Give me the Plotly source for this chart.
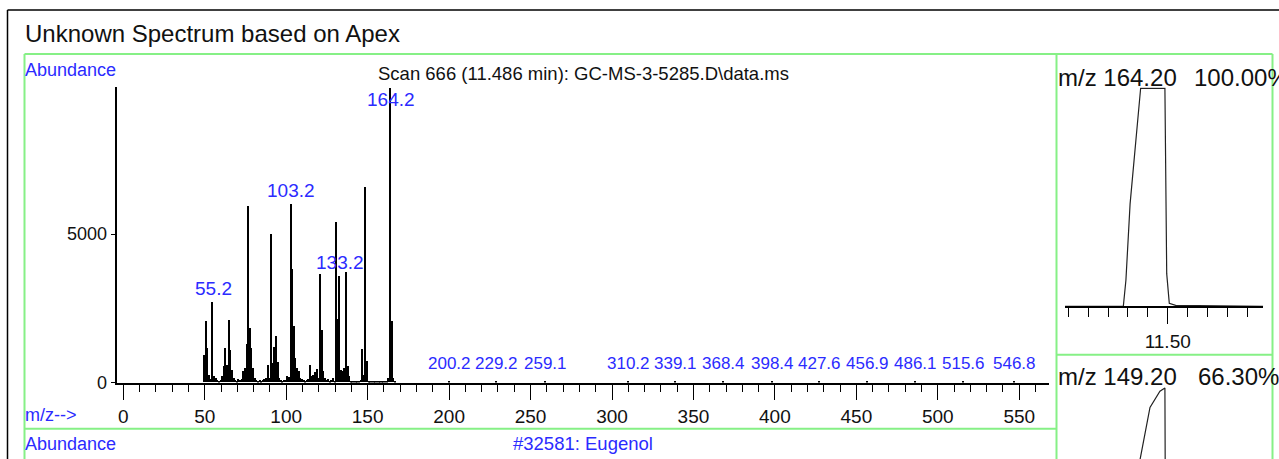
import plotly.graph_objects as go

W, H = 1279, 459
H_RENDER = 470  # page is photographed taller than the window and scaled back to 459

# ---------------- data ----------------
mz = [50, 51, 52, 53, 54, 55, 56, 57, 58, 59, 60, 61, 62, 63, 64, 65, 66, 67, 68, 69,
      70, 71, 72, 73, 74, 75, 76, 77, 78, 79, 80, 81, 82, 83, 84, 85, 86, 87, 88, 89,
      90, 91, 92, 93, 94, 95, 96, 97, 98, 99, 100, 101, 102, 103, 104, 105, 106, 107, 108, 109,
      110, 111, 112, 113, 114, 115, 116, 117, 118, 119, 120, 121, 122, 123, 124, 125, 126, 127, 128, 129,
      130, 131, 132, 133, 134, 135, 136, 137, 138, 139, 140, 141, 142, 143, 144, 145, 146, 147, 148, 149,
      150, 151, 152, 153, 154, 155, 156, 157, 158, 159, 160, 161, 162, 163, 164, 165, 166, 167,
      200.2, 229.2, 259.1, 310.2, 339.1, 368.4, 398.4, 427.6, 456.9, 486.1, 515.6, 546.8]
abundance = [930, 2060, 1160, 260, 120, 2710, 200, 150, 80, 60, 70, 200, 540, 1160, 600, 2110, 1100, 430, 150, 90,
             60, 120, 80, 120, 370, 500, 1300, 5940, 1840, 1150, 480, 150, 90, 60, 80, 60, 90, 120, 150, 600,
             150, 4990, 650, 1200, 1560, 700, 150, 90, 60, 80, 90, 200, 180, 6000, 3810, 1900, 820, 480, 370, 150,
             120, 90, 60, 90, 120, 570, 200, 260, 350, 460, 150, 3660, 1750, 370, 150, 90, 120, 60, 90, 150,
             60, 5400, 2130, 3590, 430, 370, 480, 3730, 540, 200, 60, 30, 30, 30, 30, 60, 90, 1120, 240, 6580,
             720, 60, 20, 20, 20, 20, 20, 20, 20, 20, 20, 60, 40, 150, 9930, 2060, 150, 60,
             40, 30, 30, 25, 25, 25, 25, 25, 25, 25, 25, 25]

big_labels = [55.2, 103.2, 133.2, 164.2]
small_labels = [200.2, 229.2, 259.1, 310.2, 339.1, 368.4, 398.4, 427.6, 456.9, 486.1, 515.6, 546.8]

xic164_time = [11.4484, 11.4777, 11.4790, 11.4800, 11.4811, 11.4864, 11.4986, 11.4995, 11.5008, 11.5040, 11.5480]
xic164_pct = [0, 0, 12, 30, 47, 100, 100, 15, 1.4, 0.5, 0]

xic149_time = [11.4484, 11.4760, 11.4791, 11.4821, 11.4861, 11.4911, 11.4961, 11.4986, 11.4990, 11.5480]
xic149_pct = [0, 0, 10, 35, 67, 91, 98.5, 100, 0, 0]

# ---------------- styling helpers ----------------
FONT = "Liberation Sans, Arial, sans-serif"
BLUE = "#2b2bff"
GREEN = "#86f086"
INK = "#111111"


def fx(p):
    return p / W


def fy(p):
    return 1 - p / H


fig = go.Figure()

fig.add_trace(go.Bar(x=mz, y=abundance, width=0.9, marker=dict(color="black", line=dict(width=0)),
                     xaxis="x", yaxis="y", showlegend=False, hoverinfo="x+y"))

fig.add_trace(go.Scatter(x=xic164_time, y=xic164_pct, mode="lines", line=dict(color="#222", width=1.2),
                         xaxis="x2", yaxis="y2", showlegend=False))
fig.add_trace(go.Scatter(x=xic149_time, y=xic149_pct, mode="lines", line=dict(color="#222", width=1.2),
                         xaxis="x3", yaxis="y3", showlegend=False))

ab_lookup = dict(zip(mz, abundance))
annotations = []
for lab in big_labels:
    val = ab_lookup.get(int(lab), 0)
    annotations.append(dict(x=lab, y=min(val, 9070), xref="x", yref="y", text=f"{lab:.1f}", showarrow=False,
                            xanchor="center", yanchor="bottom", yshift=1,
                            font=dict(family=FONT, size=19, color=BLUE)))
for lab in small_labels:
    annotations.append(dict(x=lab, y=0, xref="x", yref="y", text=f"{lab:.1f}", showarrow=False,
                            xanchor="center", yanchor="bottom", yshift=8,
                            font=dict(family=FONT, size=17, color=BLUE)))


def txt(x, y, s, size, color, anchor="left"):
    annotations.append(dict(x=fx(x), y=fy(y), xref="paper", yref="paper", text=s, showarrow=False,
                            xanchor=anchor, yanchor="middle", font=dict(family=FONT, size=size, color=color)))


txt(23, 33, "Unknown Spectrum based on Apex", 24, INK)
txt(23, 70, "Abundance", 18, BLUE)
txt(376, 73, "Scan 666 (11.486 min): GC-MS-3-5285.D\\data.ms", 18.5, INK)
txt(23, 414, "m/z-->", 18, BLUE)
txt(23, 443, "Abundance", 18, BLUE)
txt(511, 443, "#32581: Eugenol", 18.5, BLUE)
txt(1056, 77, "m/z 164.20", 24, INK)
txt(1192, 77, "100.00%", 24, INK)
txt(1056, 376, "m/z 149.20", 24, INK)
txt(1196, 376, "66.30%", 24, INK)

shapes = []


def line(x0, y0, x1, y1, color, width):
    shapes.append(dict(type="line", xref="paper", yref="paper", x0=fx(x0), y0=fy(y0), x1=fx(x1), y1=fy(y1),
                       line=dict(color=color, width=width), layer="above"))


# black outer frame
line(7.5, 10, W, 10, "black", 1.5)
line(7.5, 10, 7.5, H, "black", 1.5)
# green panels
line(24.5, 54, 1272.5, 54, GREEN, 2)
line(24.5, 54, 24.5, H, GREEN, 2)
line(1056.5, 54, 1056.5, H, GREEN, 2)
line(1272.5, 54, 1272.5, H, GREEN, 2)
line(24.5, 427.7, 1056.5, 427.7, GREEN, 2)
line(1056.5, 354, 1272.5, 354, GREEN, 2)

# axis geometry (pixels -> paper)
x_left_px, x_right_px = 117.3, 1049.3
x0_px, px_per_unit = 123.3, 1.629
y_base_px, y_top_px = 381.7, 87.0
y_top_val = 9950

xr = [(x_left_px - x0_px) / px_per_unit, (x_right_px - x0_px) / px_per_unit]

t_major_px, px_per_min = 1167.7, 1990.0
xic_left_px, xic_right_px = 1065.0, 1263.3
tr = [11.50 + (xic_left_px - t_major_px) / px_per_min, 11.50 + (xic_right_px - t_major_px) / px_per_min]

fig.update_layout(
    width=W, height=H_RENDER, margin=dict(l=0, r=0, t=0, b=0),
    paper_bgcolor="white", plot_bgcolor="rgba(0,0,0,0)",
    bargap=0, showlegend=False,
    annotations=annotations, shapes=shapes,
    xaxis=dict(domain=[fx(x_left_px), fx(x_right_px)], range=xr, anchor="y",
               showline=True, linecolor="black", linewidth=1.5, showgrid=False, zeroline=False,
               ticks="outside", tickmode="linear", tick0=0, dtick=50, ticklen=16, tickwidth=1.3,
               tickcolor="black",
               minor=dict(ticks="outside", dtick=10, tick0=0, ticklen=8, tickwidth=1.3, tickcolor="black",
                          showgrid=False),
               tickfont=dict(family=FONT, size=19, color=INK), ticklabelstandoff=0),
    yaxis=dict(domain=[fy(y_base_px), fy(y_top_px)], range=[0, y_top_val], anchor="x",
               showline=True, linecolor="black", linewidth=1.5, showgrid=False, zeroline=False,
               ticks="outside", tickvals=[0, 5000], ticktext=["0", "5000"], ticklen=5, tickwidth=1.3,
               tickcolor="black", tickfont=dict(family=FONT, size=18, color=INK), ticklabelstandoff=0),
    xaxis2=dict(domain=[fx(xic_left_px), fx(xic_right_px)], range=tr, anchor="y2",
                showline=True, linecolor="black", linewidth=1.5, showgrid=False, zeroline=False,
                ticks="outside", tickvals=[11.50], ticktext=["11.50"], ticklen=16, tickwidth=1.3,
                tickcolor="black",
                minor=dict(ticks="outside", dtick=0.01, tick0=11.50, ticklen=9, tickwidth=1.3,
                           tickcolor="black", showgrid=False),
                tickfont=dict(family=FONT, size=19, color=INK), ticklabelstandoff=1),
    yaxis2=dict(domain=[fy(305.7), fy(87.0)], range=[0, 100.5], anchor="x2", visible=False),
    xaxis3=dict(domain=[fx(xic_left_px), fx(xic_right_px)], range=tr, anchor="y3", visible=False),
    yaxis3=dict(domain=[0, fy(386.0)], range=[66.8, 100.5], anchor="x3", visible=False),
)

page_css = (
    "var r=document.documentElement, b=document.body;"
    "r.style.margin='0';r.style.padding='0';r.style.overflow='hidden';"
    "b.style.margin='0';b.style.padding='0';b.style.overflow='hidden';"
)

fig.write_html("out.html", config={"displayModeBar": False}, post_script=page_css)
